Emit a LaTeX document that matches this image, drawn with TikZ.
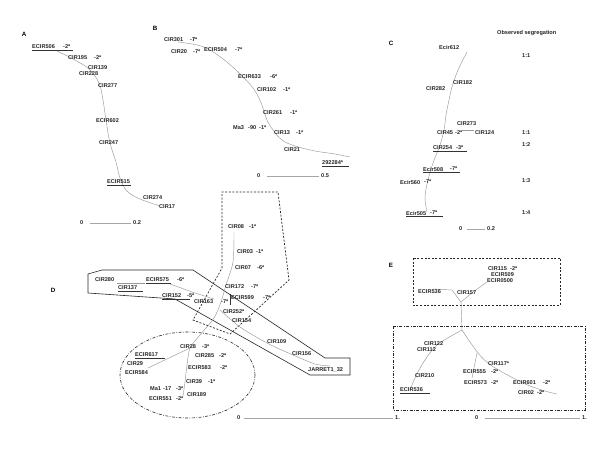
\documentclass[tikz,border=0pt]{standalone}
\usepackage{fontspec}
\setmainfont{Liberation Sans}
\begin{document}
\begin{tikzpicture}[x=1pt,y=-1pt,
  lb/.style={anchor=west, inner sep=0pt, font=\fontsize{5.6}{6}\selectfont\bfseries, text=black!85},
  pl/.style={anchor=center, inner sep=0pt, font=\fontsize{6.2}{7}\selectfont\bfseries},
  map/.style={draw=black!40, line width=0.45pt},
  ul/.style={draw=black!80, line width=0.7pt},
  sbar/.style={draw=black!35, line width=0.45pt},
  poly/.style={draw=black!85, line width=0.6pt},
  dpoly/.style={draw=black!85, line width=0.7pt, dash pattern=on 2pt off 1.6pt},
  ddpoly/.style={draw=black!85, line width=0.6pt, dash pattern=on 3pt off 1.5pt on 0.7pt off 1.5pt}]
\useasboundingbox (0,0) rectangle (600,450);
\fill[white] (0,0) rectangle (600,450);

% ---------------- Panel A ----------------
\node[pl] (pA) at (24,34) {A};
\draw[map] plot[smooth, tension=0.6] coordinates {(55,50) (73,59) (89,69) (99,83) (103,100) (106,120) (110,143) (116,162) (120,178) (127,191) (140,199) (160,206)};
\node[lb] (a1) at (32,47) {ECIR506}; \node[lb] (a1v) at (63,47) {-2*};
\draw[ul] (32,50.5) -- (73,50.5);
\node[lb] (a2) at (68,58) {CIR195}; \node[lb] (a2v) at (94,58) {-2*};
\node[lb] (a3) at (88,68) {CIR139};
\node[lb] (a4) at (79,74) {CIR228};
\node[lb] (a5) at (98,86) {CIR277};
\node[lb] (a6) at (96,121) {ECIR602};
\node[lb] (a7) at (99,143) {CIR247};
\node[lb] (a8) at (107,182) {ECIR515};
\draw[ul] (107,185.5) -- (131,185.5);
\node[lb] (a9) at (143,198) {CIR274};
\node[lb] (a10) at (159,207) {CIR17};
\node[lb] (sa0) at (80,223) {0};
\node[lb] (sa1) at (133,223) {0.2};
\draw[sbar] ([xshift=6pt]sa0.east) -- ([xshift=-2pt]sa1.west);

% ---------------- Panel B ----------------
\node[pl] (pB) at (155,28) {B};
\draw[map] plot[smooth, tension=0.6] coordinates {(178,42) (197,45) (210,50) (227,62) (243,77) (253,88) (259,98) (263,108) (267,120) (273,130) (282,140) (295,146) (315,151) (335,154) (350,157)};
\draw[map] (193,37) -- (193,41);
\node[lb] (b1) at (164,40) {CIR301}; \node[lb] (b1v) at (190,40) {-7*};
\node[lb] (b2) at (171,52) {CIR20}; \node[lb] (b2v) at (193,52) {-7*};
\node[lb] (b3) at (204,50) {ECIR504}; \node[lb] (b3v) at (235,50) {-7*};
\node[lb] (b4) at (238,77) {ECIR633}; \node[lb] (b4v) at (270,77) {-6*};
\node[lb] (b5) at (257,90) {CIR102}; \node[lb] (b5v) at (283,90) {-1*};
\node[lb] (b6) at (263,113) {CIR261}; \node[lb] (b6v) at (290,113) {-1*};
\node[lb] (b7) at (233,128) {Ma3}; \node[lb] (b7a) at (248,128) {-90}; \node[lb] (b7v) at (259,128) {-1*};
\node[lb] (b8) at (274,133) {CIR13}; \node[lb] (b8v) at (296,133) {-1*};
\node[lb] (b9) at (284,150) {CIR21};
\node[lb] (b10) at (322,163) {292284*};
\draw[ul] (322,166.5) -- (349,166.5);
\node[lb] (sb0) at (257,176) {0};
\node[lb] (sb1) at (321,176) {0.5};
\draw[sbar] ([xshift=6pt]sb0.east) -- ([xshift=-2pt]sb1.west);

% ---------------- Panel C ----------------
\node[pl] (pC) at (391,43) {C};
\node[lb] (obs) at (497,33) {Observed segregation};
\draw[map] plot[smooth, tension=0.6] coordinates {(467,52) (458,70) (452,87) (449,100) (446,115) (444,130) (440,145) (433,163) (428,180) (425,197) (427,212)};
\draw[map] (462,130.5) -- (474,130.5);
\node[lb] (c1) at (439,47) {Ecir612};
\node[lb] (c2) at (453,83) {CIR182};
\node[lb] (c3) at (426,89) {CIR282};
\node[lb] (c4) at (457,124) {CIR273};
\node[lb] (c5) at (437,133) {CIR45}; \node[lb] (c5v) at (455,133) {-2*};
\node[lb] (c6) at (475,133) {CIR124};
\node[lb] (c7) at (433,148) {CIR254}; \node[lb] (c7v) at (456,148) {-3*};
\draw[ul] (433,151.5) -- (467,151.5);
\node[lb] (c8) at (423,169) {Ecir508}; \node[lb] (c8v) at (450,169) {-7*};
\draw[ul] (423,172.5) -- (460,172.5);
\node[lb] (c9) at (400,182) {Ecir560}; \node[lb] (c9v) at (424,182) {-7*};
\node[lb] (c10) at (406,213) {Ecir505}; \node[lb] (c10v) at (430,213) {-7*};
\draw[ul] (406,216.5) -- (443,216.5);
\node[lb] (r1) at (522,56) {1:1};
\node[lb] (r2) at (522,133) {1:1};
\node[lb] (r3) at (522,145) {1:2};
\node[lb] (r4) at (522,181) {1:3};
\node[lb] (r5) at (522,213) {1:4};
\node[lb] (sc0) at (459,229) {0};
\node[lb] (sc1) at (487,229) {0.2};
\draw[sbar] ([xshift=4pt]sc0.east) -- ([xshift=-2pt]sc1.west);

% ---------------- Panel D ----------------
\node[pl] (pD) at (53,290) {D};
\draw[poly] (88,274) -- (102,270) -- (193,270) -- (325,358) -- (350,358) -- (350,375) -- (310,375) -- (175,299) -- (88,293) -- cycle;
\draw[dpoly] (222,268) -- (222,192) -- (278,192) -- (289,280) -- (230,334) -- (193,320) -- cycle;
\draw[ddpoly] (187.5,375) ellipse [x radius=67.5, y radius=43];
% linkage lines
\draw[map] plot[smooth, tension=0.5] coordinates {(234,232) (233,262) (226,285) (221,302) (214,318) (200,335) (190,348) (187,365) (185,382) (183,396)};
\draw[map] (190,348) -- (148,368);
\draw[map] plot[smooth, tension=0.5] coordinates {(220,310) (240,327) (267,343) (293,355) (315,364) (330,366)};
\draw[map] (117,283) -- (145,283);
\draw[map] (170,284) -- (195,293) -- (214,299);
\draw[ul] (230,294) -- (230,305);
% labels
\node[lb] (d1) at (95,280) {CIR280};
\node[lb] (d2) at (146,280) {ECIR575}; \node[lb] (d2v) at (177,280) {-6*};
\draw[ul] (146,283.5) -- (171,283.5);
\node[lb] (d3) at (118,288) {CIR137};
\draw[ul] (118,291.5) -- (143,291.5);
\node[lb] (d4) at (162,296) {CIR152}; \node[lb] (d4v) at (187,296) {-5*};
\draw[ul] (162,299.5) -- (190,299.5);
\node[lb] (d5) at (194,302) {CIR163}; \node[lb] (d5v) at (221,302) {-7*};
\node[lb] (d6) at (228,227) {CIR08}; \node[lb] (d6v) at (249,227) {-1*};
\node[lb] (d7) at (237,252) {CIR03}; \node[lb] (d7v) at (256,252) {-1*};
\node[lb] (d8) at (235,268) {CIR07}; \node[lb] (d8v) at (257,268) {-6*};
\node[lb] (d9) at (225,287) {CIR172}; \node[lb] (d9v) at (251,287) {-7*};
\node[lb] (d10) at (231,298) {ECIR599}; \node[lb] (d10v) at (263,298) {-7*};
\node[lb] (d11) at (223,312) {CIR252*};
\node[lb] (d12) at (232,321) {CIR154};
\node[lb] (d13) at (267,342) {CIR109};
\node[lb] (d14) at (292,354) {CIR156};
\node[lb] (d15) at (308,370) {JARRET1\_32};
\node[lb] (d16) at (180,347) {CIR28}; \node[lb] (d16v) at (202,347) {-3*};
\node[lb] (d17) at (195,356) {CIR285}; \node[lb] (d17v) at (219,356) {-2*};
\node[lb] (d18) at (135,355) {ECIR617};
\draw[ul] (135,358.5) -- (165,358.5);
\node[lb] (d19) at (127,364) {CIR29};
\node[lb] (d20) at (125,373) {ECIR584};
\node[lb] (d21) at (188,368) {ECIR583}; \node[lb] (d21v) at (220,368) {-2*};
\node[lb] (d22) at (186,382) {CIR39}; \node[lb] (d22v) at (208,382) {-1*};
\node[lb] (d23) at (150,389) {Ma1}; \node[lb] (d23a) at (163,389) {-17}; \node[lb] (d23v) at (176,389) {-3*};
\node[lb] (d24) at (187,395) {CIR189};
\node[lb] (d25) at (149,399) {ECIR551}; \node[lb] (d25v) at (176,399) {-2*};
\node[lb] (sd0) at (237,418) {0};
\node[lb] (sd1) at (395,418) {1.};
\draw[sbar] ([xshift=3pt]sd0.east) -- ([xshift=-2pt]sd1.west);

% ---------------- Panel E ----------------
\node[pl] (pE) at (391,265) {E};
\draw[dpoly] (413,258) rectangle (560,305);
\draw[ddpoly] (393,326) rectangle (585,410);
\draw[map] (433,289) -- (452,290) -- (461,302) -- (473,292) -- (487,282);
\draw[map] (461,302) -- (462,330);
\draw[map] plot[smooth, tension=0.5] coordinates {(462,330) (437,345) (423,363) (415,378) (410,390)};
\draw[map] plot[smooth, tension=0.5] coordinates {(462,330) (478,353) (492,366) (523,383) (545,391) (557,394)};
\draw[map] (477,353) -- (472,378);
\node[lb] (e1) at (488,269) {CIR115}; \node[lb] (e1v) at (510,269) {-2*};
\node[lb] (e2) at (491,275) {ECIR509};
\node[lb] (e3) at (487,281) {ECIR0500};
\node[lb] (e4) at (418,292) {ECIR536};
\node[lb] (e5) at (457,293) {CIR157};
\node[lb] (e6) at (424,344) {CIR122};
\node[lb] (e7) at (417,350) {CIR112};
\node[lb] (e8) at (415,376) {CIR210};
\node[lb] (e9) at (400,390) {ECIR536};
\draw[ul] (400,393.5) -- (430,393.5);
\node[lb] (e10) at (488,364) {CIR117*};
\node[lb] (e11) at (463,372) {ECIR555}; \node[lb] (e11v) at (491,372) {-2*};
\node[lb] (e12) at (464,383) {ECIR573}; \node[lb] (e12v) at (491,383) {-2*};
\node[lb] (e13) at (513,383) {ECIR601}; \node[lb] (e13v) at (543,383) {-2*};
\node[lb] (e14) at (518,393) {CIR02}; \node[lb] (e14v) at (537,393) {-2*};
\node[lb] (se0) at (475,418) {0};
\node[lb] (se1) at (582,418) {1.};
\draw[sbar] ([xshift=6pt]se0.east) -- ([xshift=-2pt]se1.west);
\end{tikzpicture}
\end{document}
